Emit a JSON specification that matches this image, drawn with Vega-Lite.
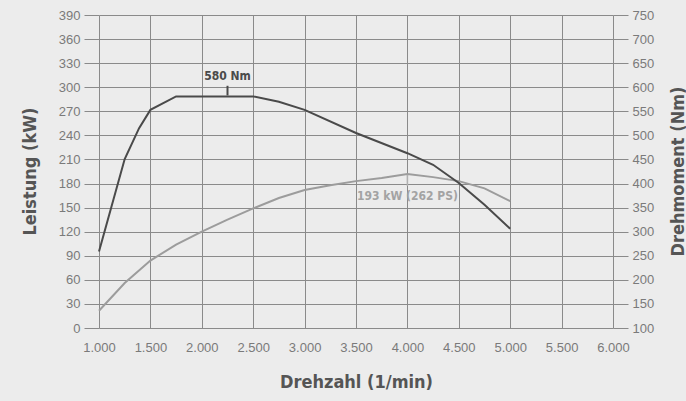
{
  "$schema": "https://vega.github.io/schema/vega-lite/v6.json",
  "width": 514,
  "height": 313,
  "autosize": {"type": "none"},
  "padding": {"left": 99, "top": 15, "right": 73, "bottom": 73},
  "background": "#ececec",
  "config": {
    "view": {"stroke": null},
    "font": "Liberation Sans",
    "axis": {
      "labelFont": "Liberation Sans",
      "labelFontSize": 13,
      "labelColor": "#7a7a7a",
      "labelFlush": false,
      "labelOverlap": false,
      "gridColor": "#8a8a8a",
      "gridOpacity": 1,
      "gridWidth": 1,
      "tickColor": "#8a8a8a",
      "tickWidth": 1,
      "titleFont": "Liberation Sans Narrow, DejaVu Sans Condensed, Roboto",
      "titleFontSize": 18,
      "titleFontWeight": "bold",
      "titleColor": "#555555"
    }
  },
  "datasets": {
    "power": [
      {"rpm": 1000, "kW": 21.5},
      {"rpm": 1250, "kW": 56},
      {"rpm": 1500, "kW": 84},
      {"rpm": 1750, "kW": 104},
      {"rpm": 2000, "kW": 120},
      {"rpm": 2250, "kW": 135},
      {"rpm": 2500, "kW": 149},
      {"rpm": 2750, "kW": 162},
      {"rpm": 3000, "kW": 172},
      {"rpm": 3250, "kW": 178},
      {"rpm": 3500, "kW": 183},
      {"rpm": 3750, "kW": 187},
      {"rpm": 4000, "kW": 192},
      {"rpm": 4250, "kW": 188},
      {"rpm": 4500, "kW": 183},
      {"rpm": 4750, "kW": 174},
      {"rpm": 5000, "kW": 158}
    ],
    "torque": [
      {"rpm": 1000, "Nm": 259},
      {"rpm": 1250, "Nm": 451},
      {"rpm": 1390, "Nm": 515},
      {"rpm": 1500, "Nm": 553},
      {"rpm": 1750, "Nm": 581},
      {"rpm": 2000, "Nm": 581},
      {"rpm": 2250, "Nm": 581},
      {"rpm": 2500, "Nm": 581},
      {"rpm": 2750, "Nm": 570},
      {"rpm": 3000, "Nm": 553},
      {"rpm": 3500, "Nm": 505},
      {"rpm": 4000, "Nm": 463},
      {"rpm": 4250, "Nm": 439},
      {"rpm": 4500, "Nm": 401},
      {"rpm": 4750, "Nm": 356},
      {"rpm": 5000, "Nm": 306}
    ],
    "torqueNote": [
      {"rpm": 2250, "Nm": 583, "Nm2": 603, "NmText": 623, "label": "580 Nm"}
    ],
    "powerNote": [
      {"rpm": 4000, "kW": 191, "kW2": 177, "kWText": 165, "label": "193 kW (262 PS)"}
    ]
  },
  "layer": [
    {
      "data": {"name": "power"},
      "mark": {"type": "line", "color": "#9c9c9c", "strokeWidth": 2},
      "encoding": {
        "x": {
          "field": "rpm", "type": "quantitative",
          "scale": {"domain": [1000, 6000], "nice": false, "zero": false},
          "axis": {
            "values": [1000, 1500, 2000, 2500, 3000, 3500, 4000, 4500, 5000, 5500, 6000],
            "labelExpr": "replace(format(datum.value, ','), ',', '.')",
            "grid": true, "ticks": false, "domain": false,
            "labelPadding": 13,
            "title": "Drehzahl (1/min)",
            "titleY": 54, "titleBaseline": "middle"
          }
        },
        "y": {
          "field": "kW", "type": "quantitative",
          "scale": {"domain": [0, 390], "nice": false},
          "axis": {
            "orient": "left",
            "values": [0, 30, 60, 90, 120, 150, 180, 210, 240, 270, 300, 330, 360, 390],
            "grid": true, "tickSize": 15, "domain": false, "labelPadding": 4,
            "title": "Leistung (kW)",
            "titleX": -69, "titleY": 156, "titleBaseline": "middle", "titleAngle": 270
          }
        }
      }
    },
    {
      "data": {"name": "torque"},
      "mark": {"type": "line", "color": "#4a4a4a", "strokeWidth": 2},
      "encoding": {
        "x": {"field": "rpm", "type": "quantitative"},
        "y": {
          "field": "Nm", "type": "quantitative",
          "scale": {"domain": [100, 750], "nice": false, "zero": false},
          "axis": {
            "orient": "right",
            "values": [100, 150, 200, 250, 300, 350, 400, 450, 500, 550, 600, 650, 700, 750],
            "grid": false, "tickSize": 15, "domain": false, "labelPadding": 4,
            "title": "Drehmoment (Nm)",
            "titleX": 65, "titleY": 156, "titleBaseline": "middle", "titleAngle": 270
          }
        }
      }
    },
    {
      "data": {"name": "torqueNote"},
      "mark": {"type": "rule", "color": "#4a4a4a", "strokeWidth": 2},
      "encoding": {
        "x": {"field": "rpm", "type": "quantitative"},
        "y": {"field": "Nm", "type": "quantitative", "scale": {"domain": [100, 750], "nice": false, "zero": false}, "axis": null},
        "y2": {"field": "Nm2"}
      }
    },
    {
      "data": {"name": "torqueNote"},
      "mark": {"type": "text", "color": "#4a4a4a", "fontWeight": "bold", "fontSize": 12, "font": "Liberation Sans Narrow, DejaVu Sans Condensed, Roboto", "baseline": "middle"},
      "encoding": {
        "x": {"field": "rpm", "type": "quantitative"},
        "y": {"field": "NmText", "type": "quantitative", "scale": {"domain": [100, 750], "nice": false, "zero": false}, "axis": null},
        "text": {"field": "label"}
      }
    },
    {
      "data": {"name": "powerNote"},
      "mark": {"type": "rule", "color": "#b0b0b0", "strokeWidth": 1.5},
      "encoding": {
        "x": {"field": "rpm", "type": "quantitative"},
        "y": {"field": "kW", "type": "quantitative", "scale": {"domain": [0, 390], "nice": false}, "axis": null},
        "y2": {"field": "kW2"}
      }
    },
    {
      "data": {"name": "powerNote"},
      "mark": {"type": "text", "color": "#a3a3a3", "fontWeight": "bold", "fontSize": 12, "font": "Liberation Sans Narrow, DejaVu Sans Condensed, Roboto", "baseline": "middle"},
      "encoding": {
        "x": {"field": "rpm", "type": "quantitative"},
        "y": {"field": "kWText", "type": "quantitative", "scale": {"domain": [0, 390], "nice": false}, "axis": null},
        "text": {"field": "label"}
      }
    }
  ],
  "resolve": {"scale": {"y": "independent"}}
}
